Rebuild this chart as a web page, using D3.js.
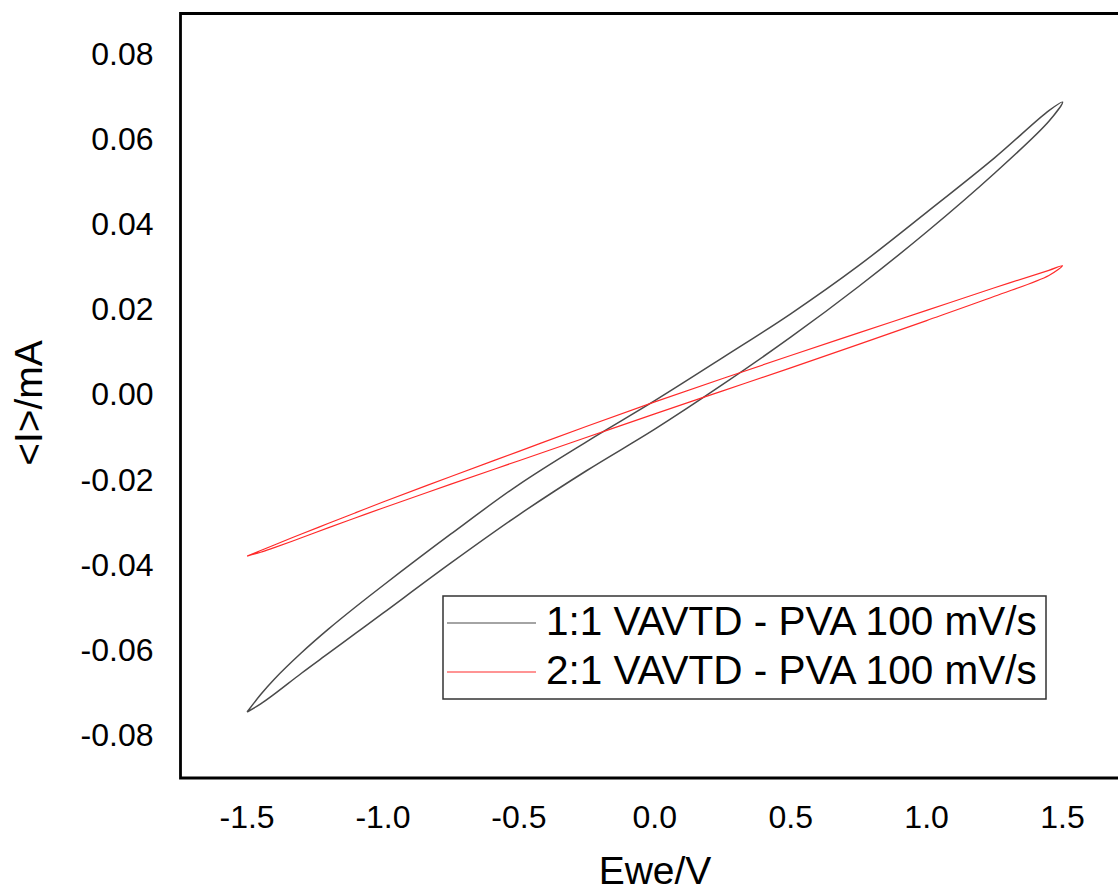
<!DOCTYPE html>
<html>
<head>
<meta charset="utf-8">
<script src="https://cdn.jsdelivr.net/npm/d3@7"></script>
<style>
  body { margin: 0; background: #fff; }
  text { font-family: "Liberation Sans", Arial, sans-serif; fill: #000; }
</style>
</head>
<body>
<div id="chart"></div>
<script>
const width = 1118;
const height = 892;

// potential grid (V) for reading the curves
const potentials = [-1.5, -1.45, -1.4, -1.3, -1.2, -1.1, -1.0, -0.75, -0.5, -0.25, 0, 0.25, 0.5, 0.75, 1.0, 1.25, 1.45, 1.5];

// 1:1 VAVTD - PVA, current (mA) on the forward (upper) and reverse (lower) branch
const oneToOneForward = [-0.0747, -0.0706, -0.0670, -0.0608, -0.0552, -0.0500, -0.0450, -0.0329, -0.0213, -0.0112, -0.0016, 0.0085, 0.0188, 0.0301, 0.0426, 0.0554, 0.0665, 0.0685];
const oneToOneReverse = [-0.0747, -0.0728, -0.0705, -0.0656, -0.0609, -0.0562, -0.0515, -0.0397, -0.0284, -0.0180, -0.0083, 0.0022, 0.0133, 0.0252, 0.0380, 0.0518, 0.0640, 0.0685];

// 2:1 VAVTD - PVA
const twoToOneForward = [-0.0381, -0.0368, -0.0355, -0.0329, -0.0304, -0.0279, -0.0254, -0.0194, -0.0135, -0.0076, -0.0019, 0.0036, 0.0090, 0.0143, 0.0196, 0.0249, 0.0290, 0.0301];
const twoToOneReverse = [-0.0381, -0.0372, -0.0361, -0.0338, -0.0314, -0.0291, -0.0268, -0.0212, -0.0157, -0.0102, -0.0047, 0.0007, 0.0061, 0.0116, 0.0172, 0.0229, 0.0278, 0.0301];

const seriesNames = ["1:1 VAVTD - PVA 100 mV/s", "2:1 VAVTD - PVA 100 mV/s"];
const seriesColors = ["#4a4a4a", "#ff2a2a"];

const xTicks = [-1.5, -1.0, -0.5, 0.0, 0.5, 1.0, 1.5];
const yTicks = [-0.08, -0.06, -0.04, -0.02, 0.00, 0.02, 0.04, 0.06, 0.08];

const plot = { left: 180.5, right: 1125, top: 13.5, bottom: 778 };

const x = d3.scaleLinear().domain([-1.745, 1.73]).range([plot.left, plot.right]);
const y = d3.scaleLinear().domain([-0.0902, 0.0893]).range([plot.bottom, plot.top]);

const fmt = d3.formatLocale({ decimal: ".", thousands: ",", grouping: [3], currency: ["", ""], minus: "-" });

function loop(forward, reverse) {
  const up = potentials.map((e, i) => [e, forward[i]]);
  const down = potentials.map((e, i) => [e, reverse[i]]).reverse();
  return up.concat(down.slice(1));
}

const series = [
  { name: seriesNames[0], color: seriesColors[0], width: 1.5, points: loop(oneToOneForward, oneToOneReverse) },
  { name: seriesNames[1], color: seriesColors[1], width: 1.2, points: loop(twoToOneForward, twoToOneReverse) }
];

const svg = d3.select("#chart").append("svg")
  .attr("width", width)
  .attr("height", height);

const line = d3.line()
  .x(d => x(d[0]))
  .y(d => y(d[1]))
  .curve(d3.curveCatmullRom.alpha(0.5));

svg.append("g")
  .selectAll("path")
  .data(series)
  .join("path")
  .attr("d", d => line(d.points))
  .attr("fill", "none")
  .attr("stroke", d => d.color)
  .attr("stroke-width", d => d.width);

// frame
svg.append("path")
  .attr("d", `M${plot.right},${plot.top}H${plot.left}V${plot.bottom}H${plot.right}`)
  .attr("fill", "none")
  .attr("stroke", "#000")
  .attr("stroke-width", 2.8);

svg.append("g")
  .selectAll("text")
  .data(xTicks)
  .join("text")
  .attr("x", d => x(d))
  .attr("y", 828)
  .attr("text-anchor", "middle")
  .attr("font-size", "32px")
  .text(d => fmt.format(".1f")(d));

svg.append("g")
  .selectAll("text")
  .data(yTicks)
  .join("text")
  .attr("x", 153.5)
  .attr("y", d => y(d))
  .attr("dy", "0.36em")
  .attr("text-anchor", "end")
  .attr("font-size", "32px")
  .text(d => fmt.format(".2f")(d));

svg.append("text")
  .attr("x", 655)
  .attr("y", 884)
  .attr("text-anchor", "middle")
  .attr("font-size", "39px")
  .text("Ewe/V");

svg.append("text")
  .attr("transform", "translate(42,403) rotate(-90)")
  .attr("text-anchor", "middle")
  .attr("font-size", "39px")
  .text("<I>/mA");

// legend
const legend = svg.append("g").attr("transform", "translate(443,596)");

legend.append("rect")
  .attr("width", 603)
  .attr("height", 103)
  .attr("fill", "#fff")
  .attr("stroke", "#333")
  .attr("stroke-width", 1.5);

const item = legend.selectAll("g.item")
  .data(series)
  .join("g")
  .attr("class", "item")
  .attr("transform", (d, i) => `translate(0,${27 + i * 49})`);

item.append("line")
  .attr("x1", 4)
  .attr("x2", 93)
  .attr("stroke", d => d.color)
  .attr("stroke-width", 1.2);

item.append("text")
  .attr("x", 103)
  .attr("y", 12)
  .attr("font-size", "40.5px")
  .text(d => d.name);
</script>
</body>
</html>
